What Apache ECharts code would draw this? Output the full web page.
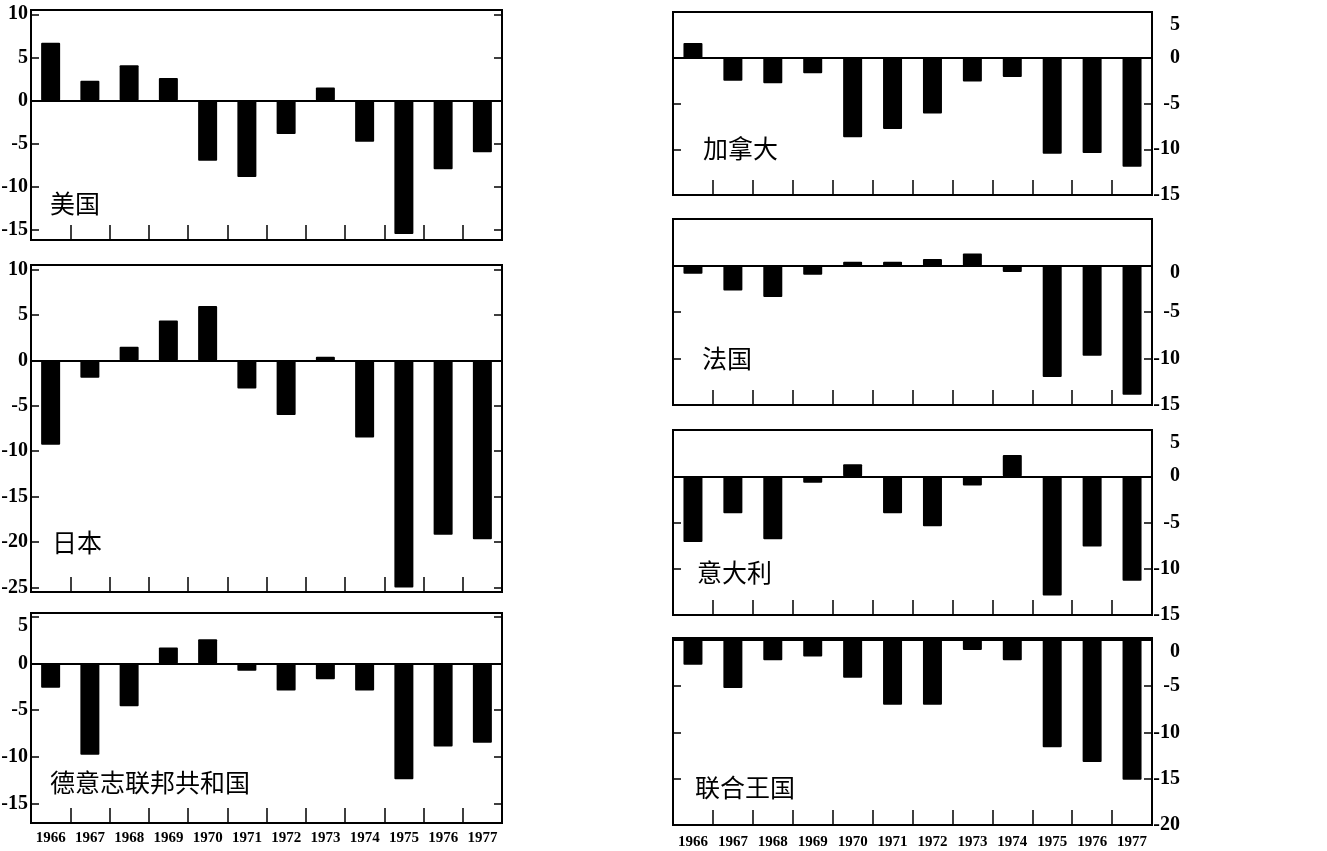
<!DOCTYPE html>
<html><head><meta charset="utf-8">
<script src="https://cdn.jsdelivr.net/npm/echarts@6/dist/echarts.min.js"></script>
<style>html,body{margin:0;padding:0;background:#fff}#c{width:1327px;height:851px}</style>
</head><body><div id="c"></div>
<script>
const years = ['1966','1967','1968','1969','1970','1971','1972','1973','1974','1975','1976','1977'];
const usValues      = [6.7, 2.3, 4.1, 2.6, -7.0, -8.9, -3.9, 1.5, -4.8, -15.5, -8.0, -6.0];
const japanValues   = [-9.3, -1.9, 1.5, 4.4, 6.0, -3.1, -6.0, 0.4, -8.5, -25.0, -19.2, -19.7];
const germanyValues = [-2.6, -9.8, -4.6, 1.7, 2.6, -0.8, -2.9, -1.7, -2.9, -12.4, -8.9, -8.5];
const canadaValues  = [1.6, -2.5, -2.8, -1.7, -8.7, -7.8, -6.1, -2.6, -2.1, -10.5, -10.4, -11.9];
const franceValues  = [-0.9, -2.7, -3.4, -1.0, 0.4, 0.4, 0.7, 1.3, -0.7, -12.0, -9.7, -13.9];
const italyValues   = [-7.1, -4.0, -6.8, -0.7, 1.3, -4.0, -5.4, -1.0, 2.3, -12.9, -7.6, -11.3];
const ukValues      = [-2.7, -5.2, -2.2, -1.8, -4.1, -7.0, -7.0, -1.1, -2.2, -11.6, -13.2, -15.1];
const usTicks      = [-15, -10, -5, 0, 5, 10];
const japanTicks   = [-25, -20, -15, -10, -5, 0, 5, 10];
const germanyTicks = [-15, -10, -5, 0, 5];
const canadaTicks  = [-15, -10, -5, 0, 5];
const franceTicks  = [-15, -10, -5, 0];
const italyTicks   = [-15, -10, -5, 0, 5];
const ukTicks      = [-20, -15, -10, -5, 0];
const countryNames = ['美国', '日本', '德意志联邦共和国', '加拿大', '法国', '意大利', '联合王国'];

const panels = [
  {data: usValues, ticks: usTicks, min: -16.2, max: 10.5, left: 31, top: 10, width: 471, height: 230, side: 'left', years: false, shiftVal: null, shift: 0, lx: 50, ly: 203},
  {data: japanValues, ticks: japanTicks, min: -25.5, max: 10.5, left: 31, top: 265, width: 471, height: 327, side: 'left', years: false, shiftVal: null, shift: 0, lx: 52, ly: 542},
  {data: germanyValues, ticks: germanyTicks, min: -17.1, max: 5.4, left: 31, top: 613, width: 471, height: 210, side: 'left', years: true, yearMargin: 8, shiftVal: 5, shift: 9, lx: 50, ly: 782},
  {data: canadaValues, ticks: canadaTicks, min: -15, max: 5, left: 673, top: 12, width: 479, height: 183, side: 'right', years: false, shiftVal: 5, shift: 13, lx: 703, ly: 148},
  {data: franceValues, ticks: franceTicks, min: -15, max: 5, left: 673, top: 219, width: 479, height: 186, side: 'right', years: false, shiftVal: 0, shift: 7, lx: 702, ly: 358},
  {data: italyValues, ticks: italyTicks, min: -15, max: 5, left: 673, top: 430, width: 479, height: 185, side: 'right', years: false, shiftVal: 5, shift: 13, lx: 697, ly: 572},
  {data: ukValues, ticks: ukTicks, min: -20, max: 0.2, left: 673, top: 638, width: 479, height: 187, side: 'right', years: true, yearMargin: 10, shiftVal: 0, shift: 12, lx: 695, ly: 787}
];

const serif = '"Liberation Serif", "DejaVu Serif", serif';
const labelFont = {fontFamily: serif, fontWeight: 'bold', fontSize: 20, color: '#000'};

const grids = [], xAxes = [], yAxes = [], series = [], graphics = [];
panels.forEach((p, i) => {
  grids.push({left: p.left, top: p.top, width: p.width, height: p.height, show: true,
    borderColor: '#000', borderWidth: 2, backgroundColor: 'transparent', containLabel: false, outerBoundsMode: 'none'});
  xAxes.push({type: 'category', gridIndex: i, data: years, boundaryGap: true, position: 'bottom',
    axisLine: {show: false, onZero: false},
    axisTick: {show: true, inside: true, length: 15, interval: 0, lineStyle: {color: '#000', width: 1.5}},
    axisLabel: {show: p.years, interval: 0, margin: p.yearMargin || 8, fontFamily: serif, fontWeight: 'bold', fontSize: 15, color: '#000'},
    splitLine: {show: false}});
  ['left', 'right'].forEach(pos => {
    const showLabel = pos === p.side;
    yAxes.push({type: 'value', gridIndex: i, position: pos, min: p.min, max: p.max,
      axisLine: {show: false, onZero: false},
      axisTick: {show: true, inside: true, length: 8, customValues: p.ticks, lineStyle: {color: '#000', width: 1.5}},
      splitLine: {show: false},
      axisLabel: {show: showLabel, customValues: p.ticks,
        margin: pos === 'left' ? 3 : 28, align: 'right',
        formatter: function (v) { return (p.shiftVal !== null && v === p.shiftVal) ? '{s|' + v + '}' : '{n|' + v + '}'; },
        rich: {
          n: Object.assign({}, labelFont),
          s: Object.assign({padding: [2 * p.shift, 0, 0, 0]}, labelFont)
        }
      }});
  });
  series.push({type: 'bar', xAxisIndex: i, yAxisIndex: 2 * i, data: p.data, barWidth: 19,
    itemStyle: {color: '#000', borderRadius: 1}, animation: false, silent: true,
    markLine: {silent: true, symbol: ['none', 'none'], label: {show: false}, animation: false,
      lineStyle: {color: '#000', width: 2, type: 'solid'}, data: [{yAxis: 0}]}});
  graphics.push({type: 'text', x: p.lx, y: p.ly, silent: true,
    style: {text: countryNames[i], fontFamily: '"Noto Sans CJK SC", sans-serif', fontSize: 25, fill: '#000', verticalAlign: 'middle', align: 'left'}});
});

const chart = echarts.init(document.getElementById('c'), null, {renderer: 'canvas'});
chart.setOption({animation: false, backgroundColor: '#fff', grid: grids, xAxis: xAxes, yAxis: yAxes, series: series, graphic: graphics});
</script></body></html>
